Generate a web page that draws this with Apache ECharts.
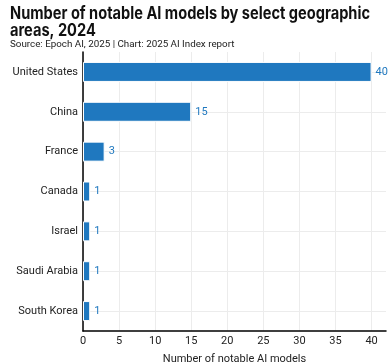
<!DOCTYPE html>
<html><head><meta charset="utf-8">
<script src="https://cdn.jsdelivr.net/npm/echarts@6/dist/echarts.min.js"></script>
<style>html,body{margin:0;padding:0;background:#fff}#c{width:392px;height:362px}</style>
</head><body><div id="c"></div>
<script>
const categories = ["United States","China","France","Canada","Israel","Saudi Arabia","South Korea"];
const values = [40,15,3,1,1,1,1];
const xTicks = [0,5,10,15,20,25,30,35,40];
const titleLines = ["Number of notable AI models by select geographic","areas, 2024"];
const subtitleText = "Source: Epoch AI, 2025 | Chart: 2025 AI Index report";
const xName = "Number of notable AI models";

const bodyFont = 'Roboto';
const titleFont = 'bold 17px Inter';
const cv = document.createElement('canvas').getContext('2d');
cv.font = titleFont;
const titleScale = 360 / cv.measureText(titleLines[0]).width;

const chart = echarts.init(document.getElementById('c'));
const gridColors = xTicks.map(()=> '#ececec').concat(['rgba(0,0,0,0)']);
chart.setOption({
  animation:false,
  graphic:[{
    type:'text', left:10, top:5, scaleX:titleScale,
    style:{text:titleLines.join('\n'), font:titleFont, fill:'#111', lineHeight:17.5}
  },{
    type:'text', left:10, top:40,
    style:{text:subtitleText, fontFamily:bodyFont, fontSize:9.8, fill:'#222'}
  }],
  grid:{left:83, right:6, top:52, bottom:31, outerBoundsMode:'none', containLabel:false},
  xAxis:{
    type:'value', min:0, max:42, interval:5,
    name:xName, nameLocation:'middle', nameGap:23,
    nameTextStyle:{fontFamily:bodyFont, fontSize:11, color:'#222'},
    axisLine:{show:true, lineStyle:{color:'#000', width:1.5}},
    axisTick:{show:false},
    axisLabel:{fontFamily:bodyFont, fontSize:11, color:'#222', margin:5,
      formatter:v=> xTicks.includes(v)? String(v):''},
    splitLine:{show:true, lineStyle:{color:gridColors, width:1}}
  },
  yAxis:{
    type:'category', data:categories, inverse:true,
    axisLine:{show:true, lineStyle:{color:'#000', width:1.5}},
    axisTick:{show:false},
    axisLabel:{fontFamily:bodyFont, fontSize:11, color:'#222', margin:5},
    splitLine:{show:true, alignWithLabel:true, lineStyle:{color:'#ececec'}}
  },
  series:[{
    type:'bar', data:values, barWidth:20,
    itemStyle:{color:'#1f78bf', borderColor:'#ffffff', borderWidth:1},
    label:{show:true, position:'right', distance:4, fontFamily:bodyFont, fontSize:11, color:'#1f78bf'}
  }]
});
</script></body></html>
